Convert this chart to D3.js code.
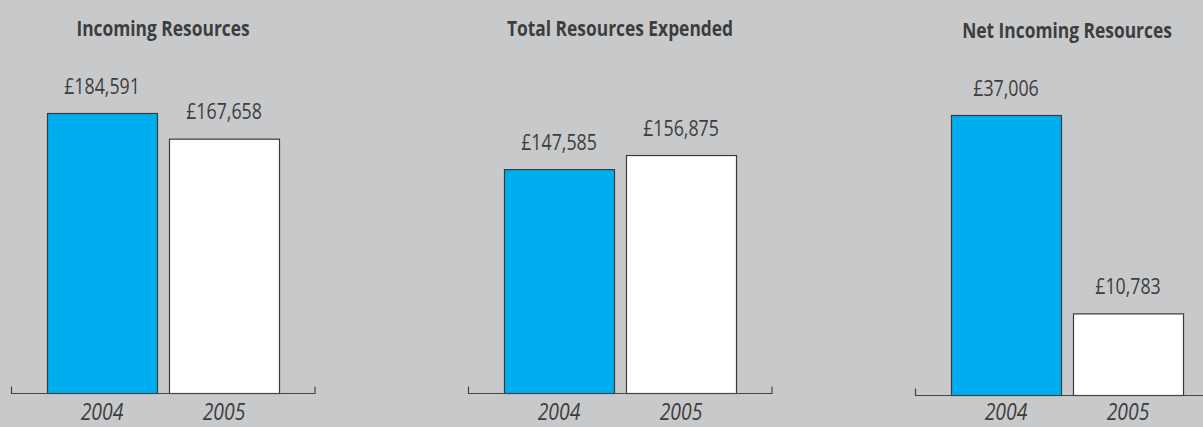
<!DOCTYPE html>
<html>
<head>
<meta charset="utf-8">
<script src="https://cdn.jsdelivr.net/npm/d3@7"></script>
<style>
  html, body { margin: 0; padding: 0; background: #c8c9cb; }
  svg { display: block; }
  text { font-family: "Open Sans", "Noto Sans", sans-serif; fill: #3d3d3d; }
</style>
</head>
<body>
<svg id="chart" width="1203" height="427"></svg>
<script>
// data
var years = ["2004", "2005"];
var titles = ["Incoming Resources", "Total Resources Expended", "Net Incoming Resources"];
var incoming = [184591, 167658];
var expended = [147585, 156875];
var net = [37006, 10783];

var svg = d3.select("#chart");
var W = 1203, H = 427;
var fill = ["#00adee", "#ffffff"];
var squeeze = 0.79;   // the original type is a condensed face, so narrow the glyphs

// each panel: where the axis starts, its baseline, and the value its tallest bar stands for
var panels = [
    { title: titles[0], values: incoming, x0: 11,  base: 393.5, max: d3.max(incoming), rightTick: true },
    { title: titles[1], values: expended, x0: 468, base: 393.5, max: d3.max(incoming), rightTick: true },
    { title: titles[2], values: net,      x0: 915, base: 395.5, max: d3.max(net),      rightTick: false }
];

var axisW = 304;
var barTop = 280;   // height in px of the tallest bar

function at(x, y) {
    return "translate(" + x + "," + y + ") scale(" + squeeze + ",1)";
}

panels.forEach(function(p) {
    var g = svg.append("g").attr("transform", "translate(" + p.x0 + ",0)");

    var x = d3.scaleBand()
        .domain(years)
        .range([0, axisW])
        .paddingInner(12 / 122)
        .paddingOuter(36 / 122);

    var y = d3.scaleLinear()
        .domain([0, p.max])
        .range([p.base, p.base - barTop]);

    // title
    g.append("text")
        .attr("transform", at(axisW / 2, p.base - 358))
        .attr("text-anchor", "middle")
        .attr("font-size", 22)
        .attr("font-weight", "bold")
        .text(p.title);

    // bars
    g.selectAll(".bar")
        .data(p.values)
        .enter()
        .append("rect")
        .attr("class", "bar")
        .attr("x", function(d, i) { return x(years[i]) + 0.5; })
        .attr("y", function(d) { return y(d); })
        .attr("width", x.bandwidth())
        .attr("height", function(d) { return p.base - y(d); })
        .attr("fill", function(d, i) { return fill[i]; })
        .attr("stroke", "#3a3a3a")
        .attr("stroke-width", 1.2);

    // value labels
    g.selectAll(".val")
        .data(p.values)
        .enter()
        .append("text")
        .attr("class", "val")
        .attr("transform", function(d, i) {
            return at(x(years[i]) + x.bandwidth() / 2, y(d) - 20);
        })
        .attr("text-anchor", "middle")
        .attr("font-size", 22.5)
        .text(function(d) { return "£" + d3.format(",")(d); });

    // axis line with end ticks
    var axis = d3.axisBottom(x).tickSize(0).tickPadding(0).tickFormat("");
    var ax = g.append("g").attr("transform", "translate(0," + p.base + ")").call(axis);
    ax.select(".domain").remove();
    var endX = p.rightTick ? axisW : W - p.x0;
    var path = "M0.5,-7V0H" + endX + (p.rightTick ? "V-7" : "");
    ax.append("path")
        .attr("d", path)
        .attr("fill", "none")
        .attr("stroke", "#444")
        .attr("stroke-width", 1.2);

    // year labels
    g.selectAll(".yr")
        .data(years)
        .enter()
        .append("text")
        .attr("class", "yr")
        .attr("transform", function(d) {
            return at(x(d) + x.bandwidth() / 2, 419.5);
        })
        .attr("text-anchor", "middle")
        .attr("font-size", 24.5)
        .attr("font-style", "italic")
        .text(function(d) { return d; });
});
</script>
</body>
</html>
